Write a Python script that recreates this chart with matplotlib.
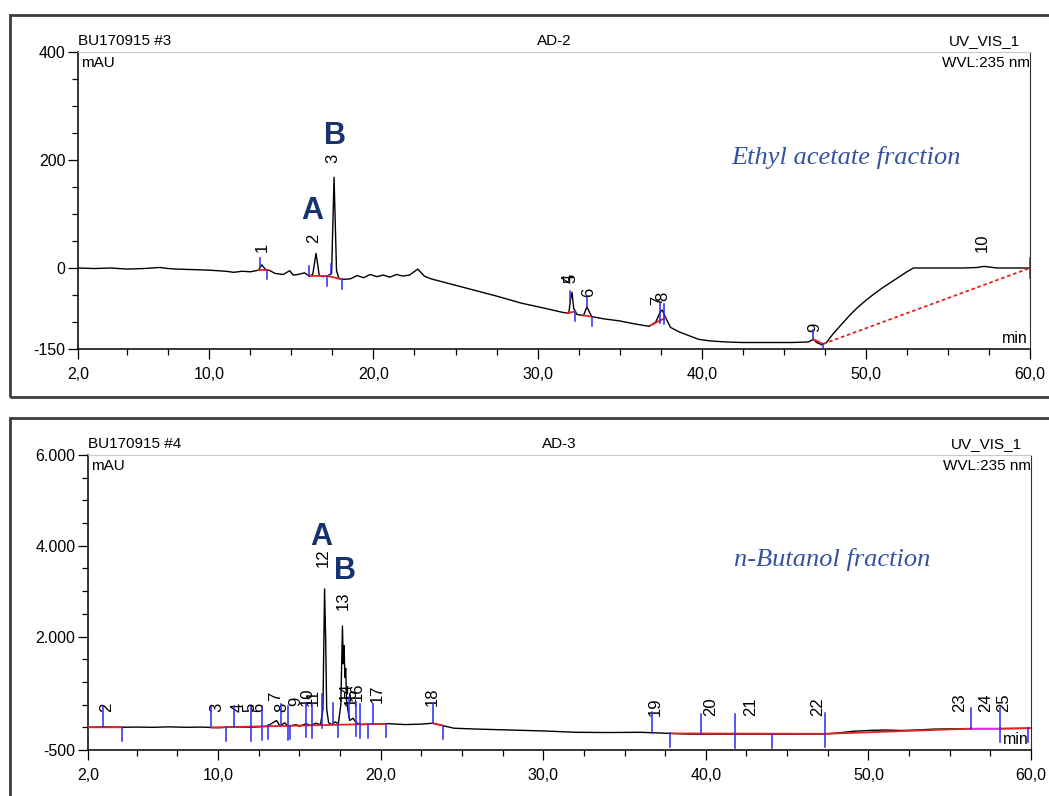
import numpy as np
import matplotlib
matplotlib.use('Agg')
import matplotlib.pyplot as plt
from matplotlib.patches import Rectangle
from matplotlib.ticker import FuncFormatter, FixedLocator

plt.rcParams['font.family'] = ['Liberation Sans', 'DejaVu Sans']

# ethyl acetate fraction trace (AD-2)
t_ea = [2.0, 3.0, 4.0, 5.0, 6.0, 7.0, 7.5, 8.0, 9.0, 10.0, 11.0, 11.5, 12.0, 12.5, 13.0, 13.2, 13.4,
        13.7, 14.0, 14.5, 14.9, 15.1, 15.4, 15.8, 16.1, 16.3, 16.5, 16.7, 16.9, 17.2, 17.45, 17.6,
        17.75, 17.9, 18.2, 18.6, 19.0, 19.4, 19.8, 20.2, 20.6, 21.0, 21.4, 21.8, 22.2, 22.7, 23.1,
        23.5, 24.5, 26.0, 27.5, 29.0, 30.5, 31.5, 31.9, 32.0, 32.1, 32.2, 32.4, 32.8, 33.0, 33.1,
        33.3, 34.0, 35.0, 36.0, 36.8, 37.2, 37.5, 37.6, 37.8, 38.1, 38.6, 39.2, 39.8, 40.5, 41.5,
        42.5, 44.0, 45.5, 46.5, 46.8, 47.0, 47.3, 47.6, 48.0, 48.5, 49.0, 49.5, 50.0, 50.5, 51.0,
        51.5, 52.0, 52.5, 52.9, 54.0, 55.0, 56.0, 56.8, 57.2, 58.0, 59.0, 60.0]
sig_ea = [0, -1, 0, -2, -1, 1, -1, -2, -3, -4, -6, -8, -6, -7, -4, 6, -2,
          -5, -10, -12, -5, -13, -12, -9, -15, -12, 27, -14, -16, -15, -10, 168,
          -5, -20, -21, -20, -14, -18, -12, -16, -13, -17, -12, -15, -13, -2, -15,
          -20, -28, -40, -52, -65, -75, -82, -84, -60, -45, -75, -86, -88, -72, -78,
          -90, -94, -98, -104, -108, -100, -80, -78, -92, -110, -118, -125, -132, -135, -137,
          -138, -138, -138, -137, -132, -138, -142, -138, -122, -105, -88, -73, -60, -48, -37,
          -27, -17, -7, 0, 0, 0, 0, 1, 3, 0, 0, 0]

ea_peak_lab = ['1', '2', '3', '4', '5', '6', '7', '8', '9', '10']
ea_peak_t = [13.2, 16.35, 17.55, 31.95, 32.05, 33.1, 37.3, 37.65, 46.9, 57.1]
ea_peak_y = [29, 47, 195, -28, -28, -54, -69, -62, -119, 29]

ea_mark_t = [13.1, 13.5, 16.07, 17.2, 17.4, 18.1, 32.0, 32.3, 33.0, 33.3, 37.45, 37.7, 46.8, 47.4, 60.0]
ea_mark_dir = [1, -1, 1, -1, 1, -1, 1, -1, 1, -1, 0, 0, 1, -1, 0]
ea_base_t0 = [13.0, 16.07, 17.2, 31.8, 32.75, 36.9, 46.8]
ea_base_t1 = [13.6, 17.2, 18.1, 32.3, 33.3, 37.8, 47.4]

# n-butanol fraction trace (AD-3)
t_bu = [2.0, 3.0, 4.0, 5.0, 6.0, 7.0, 8.0, 9.0, 10.0, 11.0, 12.0, 13.0, 13.6, 13.8, 14.1, 14.3,
        14.8, 15.0, 15.4, 15.7, 16.0, 16.3, 16.45, 16.55, 16.62, 16.68, 16.8, 17.0, 17.2, 17.4,
        17.55, 17.65, 17.7, 17.75, 17.8, 17.85, 17.9, 18.0, 18.1, 18.3, 18.5, 18.8, 19.5, 20.5,
        21.5, 22.5, 23.2, 23.8, 24.5, 26.0, 28.0, 30.0, 32.0, 34.0, 36.0, 37.5, 39.0, 42.0, 45.0,
        47.0, 48.0, 49.0, 50.0, 51.0, 52.0, 53.0, 54.0, 56.0, 58.0, 60.0]
sig_bu = [0, 10, 0, 5, 0, 10, 0, 5, -10, 10, 0, 20, 150, 30, 100, 20,
          60, 20, 80, 40, 90, 60, 400, 3050, 1900, 400, 100, 60, 120, 80,
          500, 2230, 1400, 1800, 1100, 1300, 600, 350, 150, 200, 100, 60, 70, 80,
          60, 70, 90, 40, -20, -40, -60, -80, -110, -115, -110, -130, -150, -150, -150,
          -150, -130, -90, -70, -60, -70, -60, -40, -30, -30, -20]

bu_peak_lab = ['2', '3', '4', '5', '6', '7', '8', '9', '10', '11', '12', '13', '14', '15', '16',
               '17', '18', '19', '20', '21', '22', '23', '24', '25']
bu_peak_t = [3.15, 9.9, 11.25, 11.95, 12.5, 13.55, 13.9, 14.75, 15.5, 15.85, 16.5, 17.7, 17.9,
             18.2, 18.55, 19.8, 23.2, 36.9, 40.3, 42.75, 46.85, 55.6, 57.2, 58.3]
bu_peak_y = [330, 330, 330, 330, 330, 590, 330, 480, 480, 480, 3530, 2590, 590,
             480, 590, 525, 460, 260, 240, 240, 240, 330, 330, 330]

bu_mark_t = [2.9, 4.1, 9.55, 10.5, 10.95, 12.0, 12.7, 13.1, 13.9, 14.3, 14.45, 15.4, 15.8, 16.4,
             17.05, 17.4, 18.07, 18.5, 18.75, 19.25, 19.55, 20.35, 23.2, 23.85, 36.7, 37.8, 39.7,
             41.8, 44.1, 47.3, 56.3, 58.1, 59.8]
bu_mark_dir = [1, -1, 1, -1, 1, 0, 0, -1, 1, 0, -1, 0, 0, 0,
               1, -1, 1, 0, 0, -1, 1, -1, 1, -1, 1, -1, 1,
               0, -1, 0, 1, 0, -1]
bu_base_t0 = [2.0, 9.55, 23.2, 37.8, 47.3, 58.1]
bu_base_t1 = [4.1, 20.35, 23.85, 47.3, 56.3, 60.0]
bu_mag_t = [56.3, 58.1]

x_major = [2, 10, 20, 30, 40, 50, 60]
x_minor = list(np.arange(5, 60, 2.5))

blue = '#2a2aee'
red = '#e82020'
navy = '#17336e'
italic_col = '#34529e'

fig = plt.figure(figsize=(10.49, 7.96), dpi=100)

# panel frames
fig.patches.append(Rectangle((10 / 1049, 1 - 397 / 796), 1.0, 382 / 796, transform=fig.transFigure,
                             fill=False, ec='#3c3c3c', lw=2))
fig.patches.append(Rectangle((10 / 1049, -0.02), 1.0, 1 - 418 / 796 + 0.02, transform=fig.transFigure,
                             fill=False, ec='#3c3c3c', lw=2))

ax1 = fig.add_axes([78 / 1049, 1 - 349 / 796, 952 / 1049, 297 / 796])
ax2 = fig.add_axes([88 / 1049, 1 - 750 / 796, 943 / 1049, 295 / 796])


def style_axes(ax, ylim, ymajor, yminor, yfmt):
    ax.set_xlim(2, 60)
    ax.set_ylim(*ylim)
    ax.xaxis.set_major_locator(FixedLocator(x_major))
    ax.xaxis.set_minor_locator(FixedLocator(x_minor))
    ax.yaxis.set_major_locator(FixedLocator(ymajor))
    ax.yaxis.set_minor_locator(FixedLocator(yminor))
    ax.xaxis.set_major_formatter(FuncFormatter(lambda v, p: ('%.1f' % v).replace('.', ',')))
    ax.yaxis.set_major_formatter(FuncFormatter(yfmt))
    ax.tick_params(axis='both', which='major', direction='out', length=7, width=0.9, labelsize=11.5, pad=2)
    ax.tick_params(axis='both', which='minor', direction='out', length=4, width=0.9)
    ax.tick_params(axis='x', which='major', pad=6)
    ax.spines['top'].set_color('#c8c8c8')
    ax.spines['right'].set_color('#333333')
    for s in ['left', 'bottom']:
        ax.spines[s].set_color('black')
        ax.spines[s].set_linewidth(1.1)


def draw_marks(ax, t, sig, times, dirs, up, dn, col):
    for tm, d in zip(times, dirs):
        b = np.interp(tm, t, sig)
        lo = b if d == 1 else b - dn
        hi = b if d == -1 else b + up
        ax.plot([tm, tm], [lo, hi], color=col, lw=1.1, zorder=4)


def draw_base(ax, t, sig, t0s, t1s, col, ls='-'):
    for a, b in zip(t0s, t1s):
        ax.plot([a, b], [np.interp(a, t, sig), np.interp(b, t, sig)], color=col, lw=1.3, ls=ls, zorder=3)


# top panel
style_axes(ax1, (-150, 400), [-150, 0, 200, 400], list(range(-100, 400, 50)), lambda v, p: '%d' % v)
ax1.plot(t_ea, sig_ea, color='black', lw=1.0, zorder=2)
draw_base(ax1, t_ea, sig_ea, ea_base_t0, ea_base_t1, red)
ax1.plot([47.4, 60.0], [np.interp(47.4, t_ea, sig_ea), 0], color=red, lw=1.3, ls=(0, (2, 1.5)), zorder=3)
draw_marks(ax1, t_ea, sig_ea, ea_mark_t, ea_mark_dir, 18, 18, blue)
for lab, x, y in zip(ea_peak_lab, ea_peak_t, ea_peak_y):
    ax1.text(x, y, lab, rotation=90, ha='center', va='bottom', fontsize=12)
ax1.text(16.27, 106, 'A', fontsize=22, fontweight='bold', color=navy, ha='center', va='center')
ax1.text(17.67, 245, 'B', fontsize=22, fontweight='bold', color=navy, ha='center', va='center')
ax1.text(48.8, 204, 'Ethyl acetate fraction', family=['Liberation Serif', 'DejaVu Serif'],
         style='italic', fontsize=19, color=italic_col, ha='center', va='center')
ax1.text(0.0, 1.012, 'BU170915 #3', transform=ax1.transAxes, fontsize=11, ha='left', va='bottom')
ax1.text(0.5, 1.012, 'AD-2', transform=ax1.transAxes, fontsize=11, ha='center', va='bottom')
ax1.text(0.99, 1.012, 'UV_VIS_1', transform=ax1.transAxes, fontsize=11, ha='right', va='bottom')
ax1.text(0.003, 0.985, 'mAU', transform=ax1.transAxes, fontsize=11, ha='left', va='top')
ax1.text(1.0, 0.985, 'WVL:235 nm', transform=ax1.transAxes, fontsize=11, ha='right', va='top')
ax1.text(0.998, 0.01, 'min', transform=ax1.transAxes, fontsize=11.5, ha='right', va='bottom')

# bottom panel
style_axes(ax2, (-500, 6000), [-500, 2000, 4000, 6000], list(range(0, 6000, 500)),
           lambda v, p: ('{:,}'.format(int(v))).replace(',', '.'))
ax2.plot(t_bu, sig_bu, color='black', lw=1.0, zorder=2)
draw_base(ax2, t_bu, sig_bu, bu_base_t0, bu_base_t1, red)
draw_base(ax2, t_bu, sig_bu, [bu_mag_t[0]], [bu_mag_t[1]], '#ee22ee')
draw_marks(ax2, t_bu, sig_bu, bu_mark_t, bu_mark_dir, 450, 300, blue)
for lab, x, y in zip(bu_peak_lab, bu_peak_t, bu_peak_y):
    ax2.text(x, y, lab, rotation=90, ha='center', va='bottom', fontsize=12)
ax2.text(16.36, 4190, 'A', fontsize=22, fontweight='bold', color=navy, ha='center', va='center')
ax2.text(17.83, 3440, 'B', fontsize=22, fontweight='bold', color=navy, ha='center', va='center')
ax2.text(47.8, 3700, 'n-Butanol fraction', family=['Liberation Serif', 'DejaVu Serif'],
         style='italic', fontsize=19, color=italic_col, ha='center', va='center')
ax2.text(0.0, 1.012, 'BU170915 #4', transform=ax2.transAxes, fontsize=11, ha='left', va='bottom')
ax2.text(0.5, 1.012, 'AD-3', transform=ax2.transAxes, fontsize=11, ha='center', va='bottom')
ax2.text(0.99, 1.012, 'UV_VIS_1', transform=ax2.transAxes, fontsize=11, ha='right', va='bottom')
ax2.text(0.003, 0.985, 'mAU', transform=ax2.transAxes, fontsize=11, ha='left', va='top')
ax2.text(1.0, 0.985, 'WVL:235 nm', transform=ax2.transAxes, fontsize=11, ha='right', va='top')
ax2.text(0.998, 0.01, 'min', transform=ax2.transAxes, fontsize=11.5, ha='right', va='bottom')

fig.savefig('out.png', dpi=100)
